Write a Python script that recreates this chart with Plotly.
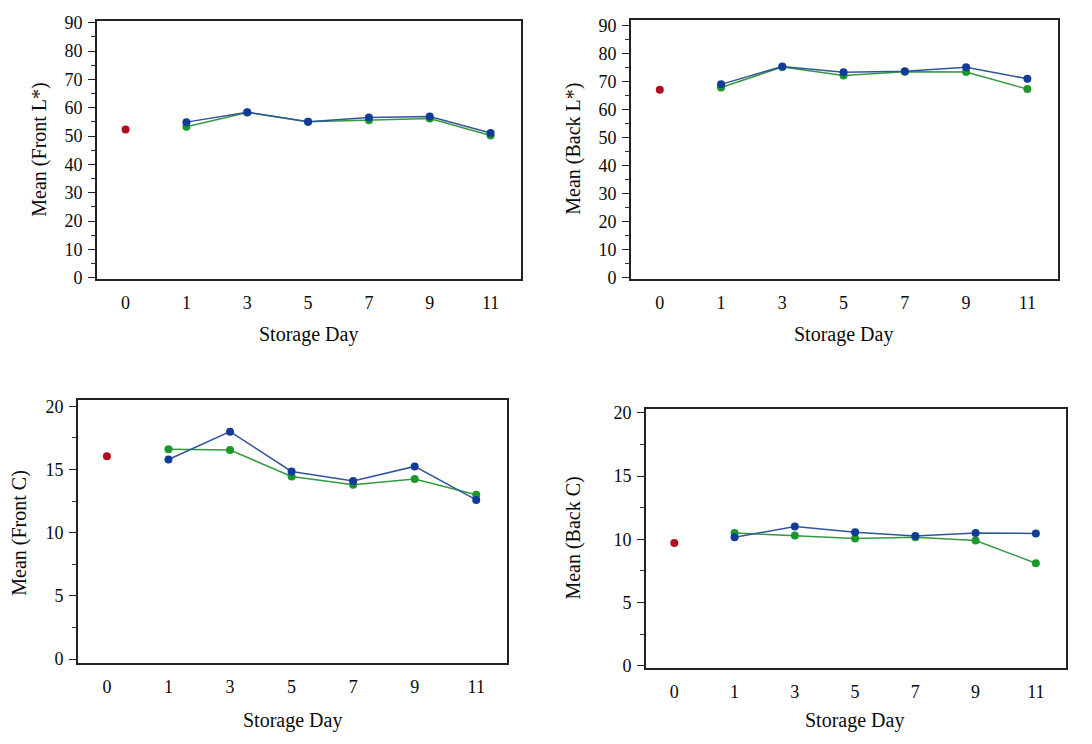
import plotly.graph_objects as go

# ---------------- data ----------------
days = ["0", "1", "3", "5", "7", "9", "11"]
day0 = ["0"]
storage_days = ["1", "3", "5", "7", "9", "11"]

front_L_control = [52.3]
front_L_blue = [54.9, 58.4, 55.0, 56.5, 56.9, 51.1]
front_L_green = [53.3, 58.3, 55.0, 55.6, 56.2, 50.2]

back_L_control = [67.2]
back_L_blue = [69.1, 75.5, 73.4, 73.8, 75.2, 71.1]
back_L_green = [68.0, 75.3, 72.3, 73.6, 73.5, 67.4]

front_C_control = [16.05]
front_C_blue = [15.8, 18.0, 14.85, 14.1, 15.25, 12.6]
front_C_green = [16.6, 16.55, 14.45, 13.8, 14.25, 13.0]

back_C_control = [9.7]
back_C_blue = [10.15, 11.0, 10.55, 10.25, 10.5, 10.45]
back_C_green = [10.5, 10.3, 10.05, 10.15, 9.9, 8.1]

y_titles = ["Mean (Front L*)", "Mean (Back L*)", "Mean (Front C)", "Mean (Back C)"]
x_title = "Storage Day"

# ---------------- style ----------------
W, H = 1092, 744
RED = "#b0101e"
BLUE = "#123c98"
GREEN = "#1e962a"
BLUE_LINE = "#34549a"
GREEN_LINE = "#339a3e"
FONT = "Liberation Serif"
TXT = "#0a0a0a"

panels = [
    # (control, blue, green, box px [l, r, t, b], yrange, dtick, minor)
    (front_L_control, front_L_blue, front_L_green, (97, 521, 13, 277), (-0.35, 90.7), 10, 5),
    (back_L_control, back_L_blue, back_L_green, (631, 1058, 12, 277), (-0.35, 92.2), 10, 5),
    (front_C_control, front_C_blue, front_C_green, (78, 507, 401, 670), (-0.29, 20.52), 5, 2.5),
    (back_C_control, back_C_blue, back_C_green, (646, 1066, 410, 675), (-0.15, 20.33), 5, 2.5),
]
ytitle_pos = [(40, 145), (574, 144), (20, 537), (574, 543)]
xtitle_pos = [(308, 334), (843, 334), (292, 729), (854, 729)]

fig = go.Figure()
layout = dict(
    width=W, height=H,
    margin=dict(l=0, r=0, t=0, b=0),
    paper_bgcolor="white", plot_bgcolor="white",
    showlegend=False,
    font=dict(family=FONT, color=TXT, size=16),
)
annotations = []

for i, (ctrl, blue, green, box, yr, dt, mn) in enumerate(panels):
    n = "" if i == 0 else str(i + 1)
    xa, ya = "x" + n, "y" + n
    l, r, t, b = box
    fig.add_trace(go.Scatter(x=day0, y=ctrl, xaxis=xa, yaxis=ya, mode="markers",
                             marker=dict(color=RED, size=8)))
    fig.add_trace(go.Scatter(x=storage_days, y=green, xaxis=xa, yaxis=ya, mode="lines+markers",
                             line=dict(color=GREEN_LINE, width=1.5),
                             marker=dict(color=GREEN, size=8)))
    fig.add_trace(go.Scatter(x=storage_days, y=blue, xaxis=xa, yaxis=ya, mode="lines+markers",
                             line=dict(color=BLUE_LINE, width=1.5),
                             marker=dict(color=BLUE, size=8)))
    layout["xaxis" + n] = dict(
        domain=[l / W, r / W], anchor=ya, type="category",
        categoryorder="array", categoryarray=days, range=[-0.47, 6.5],
        showline=True, linecolor="#222222", linewidth=1.8, mirror=True,
        ticks="outside", ticklen=7, tickcolor="rgba(0,0,0,0)",
        showgrid=False, zeroline=False,
        tickfont=dict(family=FONT, size=18, color=TXT),
    )
    layout["yaxis" + n] = dict(
        domain=[1 - b / H, 1 - t / H], anchor=xa, range=list(yr),
        tickmode="linear", tick0=0, dtick=dt,
        showline=True, linecolor="#222222", linewidth=1.8, mirror=True,
        ticks="outside", ticklen=7, tickwidth=1.4, tickcolor="#222222",
        ticklabelstandoff=2,
        minor=dict(dtick=mn, ticks="outside", ticklen=4, tickwidth=1.1, tickcolor="#333333"),
        showgrid=False, zeroline=False,
        tickfont=dict(family=FONT, size=18, color=TXT),
    )
    yx, yy = ytitle_pos[i]
    annotations.append(dict(text=y_titles[i], xref="paper", yref="paper",
                            x=yx / W, y=1 - yy / H, xanchor="center", yanchor="middle",
                            textangle=-90, showarrow=False,
                            font=dict(family=FONT, size=20, color=TXT)))
    xx, xy = xtitle_pos[i]
    annotations.append(dict(text=x_title, xref="paper", yref="paper",
                            x=xx / W, y=1 - xy / H, xanchor="center", yanchor="middle",
                            showarrow=False,
                            font=dict(family=FONT, size=20, color=TXT)))

layout["annotations"] = annotations
fig.update_layout(**layout)
fig.write_html("out.html")
